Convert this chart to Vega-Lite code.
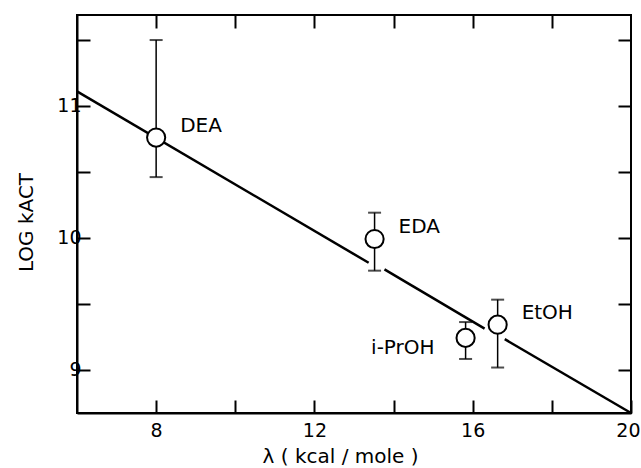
{
  "$schema": "https://vega.github.io/schema/vega-lite/v6.json",
  "width": 554,
  "height": 398,
  "autosize": "none",
  "padding": {"left": 77, "top": 15, "right": 10, "bottom": 55},
  "background": "white",
  "config": {
    "view": {"stroke": "black", "strokeWidth": 2},
    "axis": {
      "domainColor": "black", "domainWidth": 2,
      "tickColor": "black", "tickWidth": 2, "tickSize": -13,
      "grid": false,
      "labelFont": "DejaVu Sans", "labelFontSize": 19, "labelColor": "black",
      "titleFont": "DejaVu Sans", "titleFontSize": 20, "titleFontWeight": "normal", "titleColor": "black"
    }
  },
  "datasets": {
    "pts": [
      {"name": "DEA", "x": 8.0, "y": 10.76, "lo": 10.46, "hi": 11.5},
      {"name": "EDA", "x": 13.52, "y": 9.99, "lo": 9.75, "hi": 10.19},
      {"name": "i-PrOH", "x": 15.82, "y": 9.24, "lo": 9.08, "hi": 9.36},
      {"name": "EtOH", "x": 16.63, "y": 9.34, "lo": 9.015, "hi": 9.53}
    ],
    "fit": [
      {"x": 6, "y": 11.11, "seg": 1},
      {"x": 13.37, "y": 9.81, "seg": 1},
      {"x": 13.77, "y": 9.76, "seg": 2},
      {"x": 16.3, "y": 9.31, "seg": 2},
      {"x": 16.81, "y": 9.23, "seg": 3},
      {"x": 20, "y": 8.67, "seg": 3}
    ]
  },
  "resolve": {"axis": {"x": "independent", "y": "independent"}},
  "layer": [
    {
      "data": {"name": "fit"},
      "mark": {"type": "line", "color": "black", "strokeWidth": 2.5},
      "encoding": {
        "x": {"field": "x", "type": "quantitative", "scale": {"domain": [6, 20], "nice": false, "zero": false},
          "axis": {"orient": "bottom", "values": [8, 10, 12, 14, 16, 18, 20], "labelExpr": "datum.value % 4 == 0 ? datum.label : ''", "labelPadding": 21, "title": "λ ( kcal / mole )", "titlePadding": 6, "titleX": 263, "labelFlush": true, "labelFlushOffset": 9}},
        "y": {"field": "y", "type": "quantitative", "scale": {"domain": [8.67, 11.69], "nice": false, "zero": false},
          "axis": {"orient": "left", "values": [9, 9.5, 10, 10.5, 11, 11.5], "labelExpr": "datum.value % 1 == 0 ? format(datum.value, 'd') : ''", "labelPadding": 9, "title": "LOG kACT", "titlePadding": 20, "titleY": 207, "labelFlush": false}},
        "detail": {"field": "seg", "type": "nominal"}
      }
    },
    {
      "data": {"name": "pts"},
      "mark": {"type": "rule", "color": "black", "strokeWidth": 1.5},
      "encoding": {
        "x": {"field": "x", "type": "quantitative",
          "axis": {"orient": "top", "values": [8, 10, 12, 14, 16, 18], "labels": false, "title": null, "domain": false}},
        "y": {"field": "lo", "type": "quantitative",
          "axis": {"orient": "right", "values": [9, 9.5, 10, 10.5, 11, 11.5], "labels": false, "title": null, "domain": false}},
        "y2": {"field": "hi"}
      }
    },
    {
      "data": {"name": "pts"},
      "mark": {"type": "tick", "orient": "horizontal", "color": "black", "size": 13, "thickness": 2},
      "encoding": {
        "x": {"field": "x", "type": "quantitative", "axis": null},
        "y": {"field": "lo", "type": "quantitative", "axis": null}
      }
    },
    {
      "data": {"name": "pts"},
      "mark": {"type": "tick", "orient": "horizontal", "color": "black", "size": 13, "thickness": 2},
      "encoding": {
        "x": {"field": "x", "type": "quantitative", "axis": null},
        "y": {"field": "hi", "type": "quantitative", "axis": null}
      }
    },
    {
      "data": {"name": "pts"},
      "mark": {"type": "point", "shape": "circle", "size": 330, "filled": false, "fill": "white", "fillOpacity": 1, "stroke": "black", "strokeWidth": 2, "opacity": 1},
      "encoding": {
        "x": {"field": "x", "type": "quantitative", "axis": null},
        "y": {"field": "y", "type": "quantitative", "axis": null}
      }
    },
    {
      "data": {"name": "pts"},
      "transform": [{"filter": "datum.name != 'i-PrOH'"}],
      "mark": {"type": "text", "align": "left", "baseline": "middle", "dx": 24, "dy": -12, "font": "DejaVu Sans", "fontSize": 20, "color": "black"},
      "encoding": {
        "x": {"field": "x", "type": "quantitative", "axis": null},
        "y": {"field": "y", "type": "quantitative", "axis": null},
        "text": {"field": "name"}
      }
    },
    {
      "data": {"name": "pts"},
      "transform": [{"filter": "datum.name == 'i-PrOH'"}],
      "mark": {"type": "text", "align": "right", "baseline": "middle", "dx": -31, "dy": 10, "font": "DejaVu Sans", "fontSize": 20, "color": "black"},
      "encoding": {
        "x": {"field": "x", "type": "quantitative", "axis": null},
        "y": {"field": "y", "type": "quantitative", "axis": null},
        "text": {"field": "name"}
      }
    }
  ]
}
